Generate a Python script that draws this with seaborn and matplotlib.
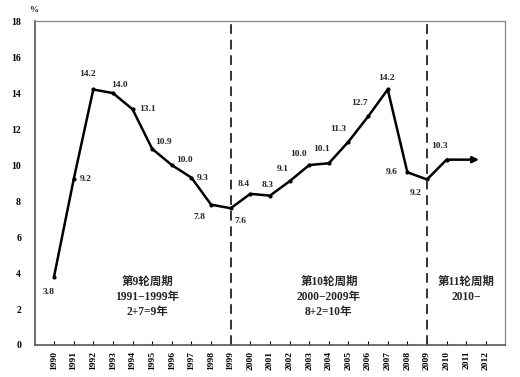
import matplotlib
matplotlib.use("Agg")
import matplotlib.pyplot as plt
import seaborn as sns
import pandas as pd

years = list(range(1990, 2011))
growth = [3.8, 9.2, 14.2, 14.0, 13.1, 10.9, 10.0, 9.3, 7.8, 7.6,
          8.4, 8.3, 9.1, 10.0, 10.1, 11.3, 12.7, 14.2, 9.6, 9.2, 10.3]
tick_years = list(range(1990, 2013))
y_ticks = [0, 2, 4, 6, 8, 10, 12, 14, 16, 18]
cycle_bounds = [1999, 2009]
cycle_texts = [
    (1994.75, ["第9轮周期", "1991−1999年", "2+7=9年"]),
    (2004.0, ["第10轮周期", "2000−2009年", "8+2=10年"]),
    (2011.0, ["第11轮周期", "2010−"]),
]
# label offsets in points (dx, dy)
label_offsets = [(-4, -11), (9, 0), (-4, 11), (5, 6), (11, 0), (8, 5), (9, 4), (8, 0),
                 (-8, -9), (7, -9), (-5, 7), (-2, 8), (-5, 9), (-8, 8), (-5, 10),
                 (-7, 9), (-6, 10), (-1, 8), (-11, 0), (-8, -10), (-5, 10)]

sns.set_theme(style="white")
plt.rcParams['font.family'] = ['Liberation Serif', 'Noto Sans CJK SC', 'DejaVu Sans']

df = pd.DataFrame({"year": years, "growth": growth})

fig = plt.figure(figsize=(5.2, 3.77), dpi=100)
ax = fig.add_axes([0.0673, 0.0849, 0.9037, 0.8591])

sns.lineplot(data=df, x="year", y="growth", ax=ax, color="black", linewidth=1.8,
             marker="o", markersize=3, markeredgewidth=0, markerfacecolor="black")

# arrow continuation
ax.annotate("", xy=(2011.65, growth[-1]), xytext=(years[-1], growth[-1]),
            arrowprops=dict(arrowstyle="-|>", color="black", lw=1.8,
                            mutation_scale=9, shrinkA=0, shrinkB=0))

for b in cycle_bounds:
    ax.axvline(b, color="#333333", linestyle=(0, (5, 3)), linewidth=1.4)

for x, v, (dx, dy) in zip(years, growth, label_offsets):
    ax.annotate(f"{v:.1f}", xy=(x, v), xytext=(dx, dy), textcoords="offset points",
                ha="center", va="center", fontsize=6.8, fontweight="bold",
                family=['Liberation Serif'])

for cx, lines in cycle_texts:
    for i, t in enumerate(lines):
        ax.text(cx, 3.5 - i * 0.82, t, ha="center", va="center", fontsize=8.3,
                fontweight="bold", family=['Liberation Serif', 'Noto Sans CJK SC'])

ax.set_xlim(1989.03, 2012.97)
ax.set_ylim(0, 18)
ax.set_xticks(tick_years)
ax.set_xticklabels([str(y) for y in tick_years], rotation=90, fontsize=6.8,
                   fontweight="bold")
ax.set_yticks(y_ticks)
ax.set_yticklabels([str(v) for v in y_ticks], fontsize=7, fontweight="bold")
ax.tick_params(axis="x", direction="in", length=3, width=0.8, pad=4, bottom=True, colors="black")
ax.tick_params(axis="y", direction="in", length=0, pad=10, left=True, colors="black")
ax.set_xlabel("")
ax.set_ylabel("")
for s in ["left", "bottom"]:
    ax.spines[s].set_color("#555555")
    ax.spines[s].set_linewidth(1.2)
for s in ["top", "right"]:
    ax.spines[s].set_color("#888888")
    ax.spines[s].set_linewidth(0.9)

fig.text(0.065, 0.985, "%", ha="center", va="top", fontsize=6.5, fontweight="bold")

fig.savefig("out.png", dpi=100)
